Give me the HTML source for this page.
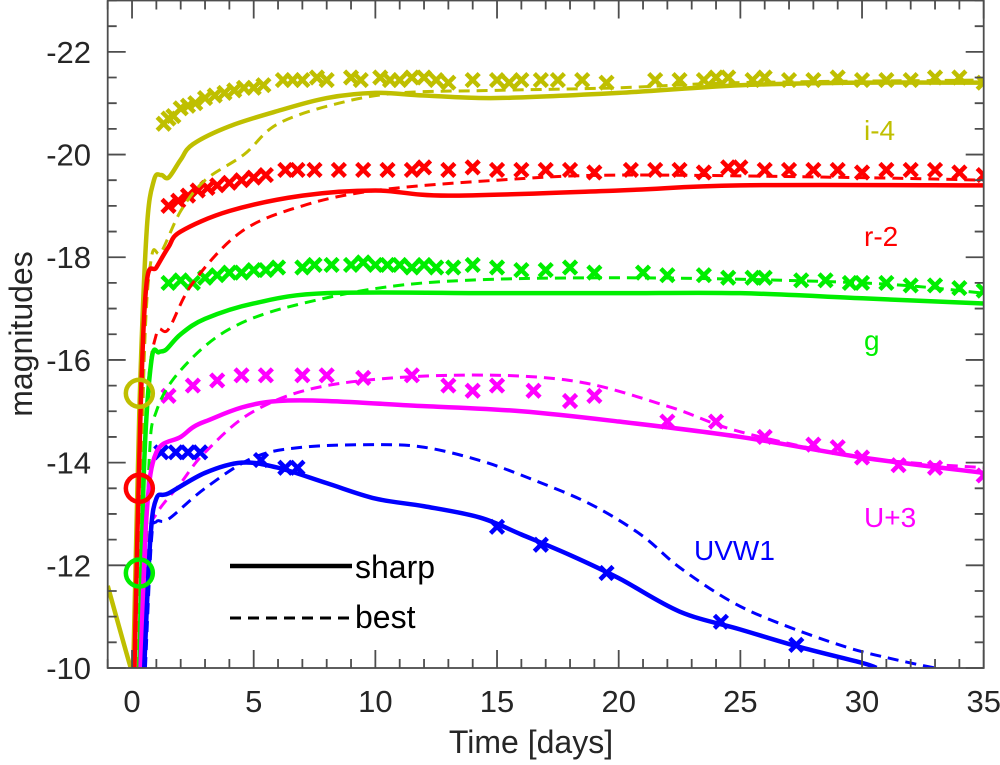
<!DOCTYPE html>
<html><head><meta charset="utf-8"><style>
body{margin:0;background:#fff;}
svg{display:block;font-family:"Liberation Sans",Arial,sans-serif;}
</style></head><body>
<svg id="chart" width="1000" height="765" viewBox="0 0 1000 765">
<defs><clipPath id="clip"><rect x="107.7" y="0.5" width="876" height="667.5"/></clipPath></defs>
<g id="plot" clip-path="url(#clip)"></g>
<g id="axes"></g>
</svg>
<script>
const xTicks=[0,5,10,15,20,25,30,35];
const yTicks=[-22,-20,-18,-16,-14,-12,-10];
// series: [t, mag]
const iSharp=[[-1,-11.6],[-0.05,-10],[0.05,-10],[0.3,-15],[0.6,-18.5],[0.9,-19.5],[1.2,-19.6],[1.5,-19.55],[2,-19.9],[2.5,-20.2],[4,-20.55],[6,-20.85],[8,-21.1],[10,-21.2],[12,-21.15],[15,-21.1],[20,-21.2],[25,-21.35],[30,-21.4],[35,-21.4]];
const iBest=[[0.25,-10],[0.5,-16],[0.8,-18],[1.2,-18.1],[2,-18.9],[3,-19.5],[4.6,-20],[6,-20.6],[8.5,-21],[11,-21.2],[15,-21.25],[20,-21.3],[25,-21.4],[35,-21.45]];
const iObs=[[1.3,-20.6],[1.5,-20.7],[1.7,-20.75],[2,-20.9],[2.3,-20.95],[2.6,-21],[3,-21.1],[3.4,-21.15],[3.8,-21.2],[4.2,-21.25],[4.6,-21.3],[5,-21.3],[5.4,-21.35],[6.2,-21.45],[6.6,-21.45],[7,-21.45],[7.6,-21.5],[8,-21.45],[9,-21.5],[9.4,-21.45],[10.2,-21.5],[10.6,-21.45],[11,-21.45],[11.5,-21.5],[12,-21.5],[12.5,-21.45],[13,-21.4],[14,-21.45],[15,-21.45],[15.5,-21.4],[16,-21.45],[16.8,-21.45],[17.5,-21.45],[18.5,-21.45],[19.5,-21.4],[21.5,-21.45],[22.5,-21.45],[23.5,-21.45],[24,-21.5],[24.5,-21.5],[25.5,-21.45],[26,-21.5],[27,-21.45],[28,-21.45],[29,-21.5],[30,-21.45],[31,-21.45],[32,-21.45],[33,-21.5],[34,-21.5],[35,-21.4]];
const rSharp=[[0.1,-10],[0.35,-15],[0.6,-17.5],[1,-17.8],[1.5,-18.2],[2,-18.5],[4,-18.9],[7,-19.2],[10,-19.3],[13,-19.2],[20,-19.3],[25,-19.4],[35,-19.4]];
const rBest=[[0.3,-10],[0.6,-15],[1,-16.5],[1.5,-16.6],[2.5,-17.5],[4.5,-18.5],[7,-19],[10,-19.3],[15,-19.5],[20,-19.6],[30,-19.55],[35,-19.5]];
const rObs=[[1.5,-19],[1.9,-19.1],[2.3,-19.2],[2.7,-19.3],[3.1,-19.35],[3.5,-19.4],[4,-19.45],[4.5,-19.5],[5,-19.55],[5.5,-19.6],[6.3,-19.7],[6.8,-19.7],[7.5,-19.7],[8.5,-19.7],[9.5,-19.7],[10.5,-19.7],[11.5,-19.7],[12,-19.75],[13,-19.7],[14,-19.75],[15,-19.7],[16,-19.7],[17,-19.7],[18,-19.7],[19,-19.65],[20.5,-19.7],[21.5,-19.7],[22.5,-19.7],[23.5,-19.65],[24.5,-19.75],[25,-19.75],[26,-19.7],[27,-19.7],[28,-19.7],[29,-19.7],[30,-19.65],[31,-19.7],[32,-19.7],[33,-19.7],[34,-19.65],[35,-19.6]];
const gSharp=[[0.3,-10],[0.5,-14],[0.8,-16],[1.1,-16.15],[1.4,-16.2],[2,-16.5],[3,-16.8],[5,-17.1],[8,-17.3],[15,-17.3],[20,-17.3],[25,-17.3],[30,-17.2],[35,-17.1]];
const gBest=[[0.45,-10],[0.7,-14],[1,-15],[2,-15.8],[4,-16.6],[7,-17.1],[12,-17.5],[20,-17.6],[30,-17.5],[35,-17.3]];
const gObs=[[1.5,-17.5],[2,-17.55],[2.5,-17.5],[3,-17.6],[3.5,-17.65],[4,-17.7],[4.5,-17.7],[5,-17.75],[5.5,-17.75],[6,-17.8],[7,-17.8],[7.5,-17.85],[8.2,-17.85],[9,-17.85],[9.5,-17.9],[10,-17.85],[10.5,-17.85],[11,-17.85],[11.5,-17.8],[12,-17.85],[12.5,-17.8],[13.2,-17.8],[14,-17.85],[15,-17.8],[16,-17.75],[17,-17.75],[18,-17.8],[19,-17.7],[21,-17.7],[22,-17.65],[23.5,-17.65],[24.5,-17.6],[25.5,-17.6],[26,-17.6],[27.5,-17.55],[28.5,-17.55],[29.5,-17.5],[30,-17.5],[31,-17.5],[32,-17.45],[33,-17.45],[34,-17.4],[35,-17.35]];
const uSharp=[[0.35,-10],[0.6,-13],[1,-14.2],[2,-14.5],[3,-14.8],[6,-15.2],[12,-15.1],[16,-15],[20,-14.8],[25,-14.5],[30,-14.1],[35,-13.8]];
const uBest=[[0.45,-10],[0.7,-12.5],[1,-13],[2,-13.6],[3,-14.2],[5,-15],[8,-15.5],[13,-15.7],[18,-15.6],[22,-15.1],[25,-14.6],[30,-14.1],[35,-13.9]];
const uObs=[[1.5,-15.3],[2.5,-15.5],[3.5,-15.6],[4.5,-15.7],[5.5,-15.7],[7,-15.7],[8,-15.7],[9.5,-15.65],[11.5,-15.7],[13,-15.5],[14,-15.4],[15,-15.5],[16.5,-15.4],[18,-15.2],[19,-15.3],[22,-14.8],[24,-14.8],[26,-14.5],[28,-14.35],[29,-14.3],[30,-14.1],[31.5,-13.95],[33,-13.9],[35,-13.75]];
const wSharp=[[0.5,-10],[0.75,-12.5],[1,-13.3],[1.5,-13.4],[3,-13.8],[4.5,-14],[6,-13.9],[8,-13.6],[10,-13.3],[12,-13.15],[14.3,-12.93],[16,-12.6],[18,-12.2],[20,-11.75],[22.5,-11.1],[25,-10.75],[27.5,-10.4],[30,-10.1],[30.6,-10]];
const wBest=[[0.55,-10],[0.8,-12.5],[1,-12.85],[1.5,-12.9],[3,-13.5],[5,-14.1],[7,-14.3],[10,-14.35],[12,-14.3],[14.3,-14.04],[16.3,-13.7],[18.8,-13.2],[20.9,-12.6],[22.5,-11.96],[24.6,-11.3],[26.6,-10.87],[29.4,-10.4],[31.5,-10.15],[33,-10]];
const wObs=[[1.2,-14.2],[1.8,-14.2],[2.3,-14.2],[2.8,-14.2],[5.3,-14.05],[6.3,-13.9],[6.8,-13.9],[15,-12.75],[16.8,-12.4],[19.5,-11.85],[24.2,-10.9],[27.3,-10.45]];
const circles=[[0.3,-15.35],[0.3,-13.5],[0.3,-11.85]];

const X0=107.7,X1=983.7,Y0=0.5,Y1=668;
const xs=t=>X0+(t+1)/36*(X1-X0);
const ys=m=>Y1-(-m-10)/13*(Y1-Y0);
const NS="http://www.w3.org/2000/svg";
const AX='#4d4d4d',TX='#262626';
const plot=document.getElementById('plot'),axes=document.getElementById('axes');
function mk(tag,attrs,parent){const e=document.createElementNS(NS,tag);for(const k in attrs)e.setAttribute(k,attrs[k]);parent.appendChild(e);return e;}
function smoothPath(data){
  const p=data.map(q=>[xs(q[0]),ys(q[1])]);
  let d=`M${p[0][0]},${p[0][1]}`;
  for(let i=0;i<p.length-1;i++){
    const p0=p[Math.max(0,i-1)],p1=p[i],p2=p[i+1],p3=p[Math.min(p.length-1,i+2)];
    const c1=[p1[0]+(p2[0]-p0[0])/6,p1[1]+(p2[1]-p0[1])/6];
    const c2=[p2[0]-(p3[0]-p1[0])/6,p2[1]-(p3[1]-p1[1])/6];
    d+=`C${c1[0]},${c1[1]} ${c2[0]},${c2[1]} ${p2[0]},${p2[1]}`;
  }
  return d;
}
function line(data,color,dashed,name){
  const e=mk('path',{d:smoothPath(data),fill:'none',stroke:color,'stroke-width':dashed?3:4.5,'stroke-dasharray':dashed?'11,7':'none','stroke-linejoin':'round'},plot);
  
  
}
function marks(data,color,name){
  const g=mk('g',{stroke:color,'stroke-width':4.5},plot);
  
  
  data.forEach(p=>{const x=xs(p[0]),y=ys(p[1]),s=6.5;
    mk('path',{d:`M${x-s},${y-s}L${x+s},${y+s}M${x-s},${y+s}L${x+s},${y-s}`},g);});
}
const I='#bfbf00',R='#ff0000',G='#00ee00',U='#ff00ff',W='#0000ff';
marks(iObs,I,'i-band-observations');marks(rObs,R,'r-band-observations');marks(gObs,G,'g-band-observations');marks(uObs,U,'u-band-observations');marks(wObs,W,'uvw1-observations');
line(iBest,I,true,'i-band-best-model');line(rBest,R,true,'r-band-best-model');line(gBest,G,true,'g-band-best-model');line(uBest,U,true,'u-band-best-model');line(wBest,W,true,'uvw1-best-model');
line(iSharp,I,false,'i-band-sharp-model');line(rSharp,R,false,'r-band-sharp-model');line(gSharp,G,false,'g-band-sharp-model');line(uSharp,U,false,'u-band-sharp-model');line(wSharp,W,false,'uvw1-sharp-model');
[I,R,G].forEach((c,i)=>{const e=mk('circle',{cx:xs(circles[i][0]),cy:ys(circles[i][1]),r:13.5,fill:'none',stroke:c,'stroke-width':4.5},plot);
  
  });
mk('rect',{x:X0,y:Y0,width:X1-X0,height:Y1-Y0,fill:'none',stroke:AX,'stroke-width':1.8},axes);
let d='';
for(let t=-1;t<=35;t++){const x=xs(t),L=(t%5===0)?18:9;d+=`M${x},${Y1}v${-L}M${x},${Y0}v${L}`;}
for(let m=-23;m<=-10;m+=0.5){const y=ys(m),L=(m%2===0)?18:9;d+=`M${X0},${y}h${L}M${X1},${y}h${-L}`;}
mk('path',{d:d,stroke:AX,'stroke-width':1.8,fill:'none'},axes);
xTicks.forEach(t=>{const e=mk('text',{x:xs(t),y:712,'text-anchor':'middle','font-size':31,fill:TX},axes);e.textContent=t;
  
  });
yTicks.forEach(m=>{const e=mk('text',{x:91,y:ys(m)+11,'text-anchor':'end','font-size':31,fill:TX},axes);e.textContent=m;
  
  });
function txt(x,y,s,size,fill,name,extra){const e=mk('text',Object.assign({x:x,y:y,'font-size':size,fill:fill},extra||{}),axes);e.textContent=s;
  
  return e;}
txt(531,753,'Time [days]',32,TX,'x-axis-title',{'text-anchor':'middle'});
txt(32,334,'magnitudes',32,TX,'y-axis-title',{'text-anchor':'middle',transform:'rotate(-90 32 334)'});
txt(864,140,'i-4',28,I,'i-band-label');
txt(864,246,'r-2',28,R,'r-band-label');
txt(864,350,'g',28,G,'g-band-label');
txt(864,527,'U+3',28,U,'u-band-label');
txt(694,560,'UVW1',28,W,'uvw1-label');
mk('path',{d:'M230,566H352',stroke:'#000','stroke-width':4.5},axes);
mk('path',{d:'M230,618H352',stroke:'#000','stroke-width':3,'stroke-dasharray':'11,7'},axes);
txt(355,578,'sharp',32,'#000','legend-sharp');
txt(355,628,'best',32,'#000','legend-best');
</script>
</body></html>
